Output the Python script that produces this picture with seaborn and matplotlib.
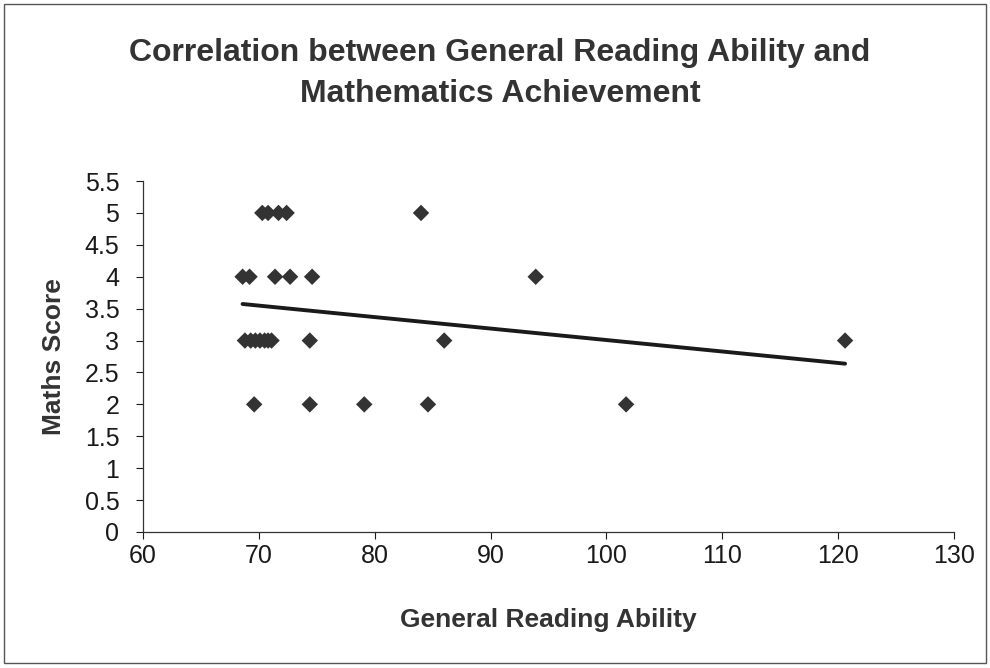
import matplotlib
matplotlib.use("Agg")
import matplotlib.pyplot as plt
import seaborn as sns
import pandas as pd
from matplotlib.patches import Rectangle

# values (the y=3 cluster near 70 hides a few overlapping points)
reading = [70.3, 70.8, 71.7, 72.4, 84.0,
           68.6, 69.2, 71.4, 72.7, 74.6, 93.9,
           68.8, 69.3, 69.7, 70.1, 70.5, 70.8, 71.1, 74.4, 86.0, 120.6,
           69.6, 74.4, 79.1, 84.6, 101.7]
maths = [5, 5, 5, 5, 5,
         4, 4, 4, 4, 4, 4,
         3, 3, 3, 3, 3, 3, 3, 3, 3, 3,
         2, 2, 2, 2, 2]
x_ticks = [60, 70, 80, 90, 100, 110, 120, 130]
y_ticks = [0, 0.5, 1, 1.5, 2, 2.5, 3, 3.5, 4, 4.5, 5, 5.5]

df = pd.DataFrame({"reading": reading, "maths": maths})

sns.set_theme(style="white")
plt.rcParams["font.family"] = ["Liberation Sans", "DejaVu Sans"]

fig = plt.figure(figsize=(9.9, 6.68), dpi=100)
ax = fig.add_axes([0.1444, 0.2036, 0.8192, 0.5254])

sns.regplot(
    data=df,
    x="reading",
    y="maths",
    ax=ax,
    ci=None,
    truncate=True,
    marker="D",
    scatter_kws={"s": 70, "color": "#333333", "edgecolor": "none", "alpha": 1, "zorder": 3},
    line_kws={"color": "#1a1a1a", "linewidth": 2.8, "zorder": 2},
)

ax.set_xlim(60, 130)
ax.set_ylim(0, 5.5)
ax.set_xticks(x_ticks)
ax.set_yticks(y_ticks)
ax.set_yticklabels([f"{v:g}" for v in y_ticks])
ax.tick_params(axis="both", labelsize=18, colors="#1a1a1a", direction="out",
               length=5, width=0.8, left=True, bottom=True)
ax.tick_params(axis="x", pad=4)
ax.tick_params(axis="y", pad=12)
for side in ["top", "right"]:
    ax.spines[side].set_visible(False)
for side in ["left", "bottom"]:
    ax.spines[side].set_color("#333333")
    ax.spines[side].set_linewidth(0.9)

ax.set_xlabel("General Reading Ability", fontsize=19, fontweight="bold", color="#333333")
ax.set_ylabel("Maths Score", fontsize=19, fontweight="bold", color="#333333")
ax.xaxis.set_label_coords(0.5, -0.25)
ax.xaxis.label.set_va("center")
ax.yaxis.set_label_coords(-0.11, 0.5)
ax.yaxis.label.set_va("center")

fig.text(0.505, 0.89, "Correlation between General Reading Ability and\nMathematics Achievement",
         ha="center", va="center", fontsize=23, fontweight="bold",
         color="#333333", linespacing=1.45)

fig.patches.append(Rectangle((0.004, 0.008), 0.992, 0.986, transform=fig.transFigure,
                             fill=False, edgecolor="#555555", linewidth=1.0))

fig.savefig("out.png", dpi=100)
